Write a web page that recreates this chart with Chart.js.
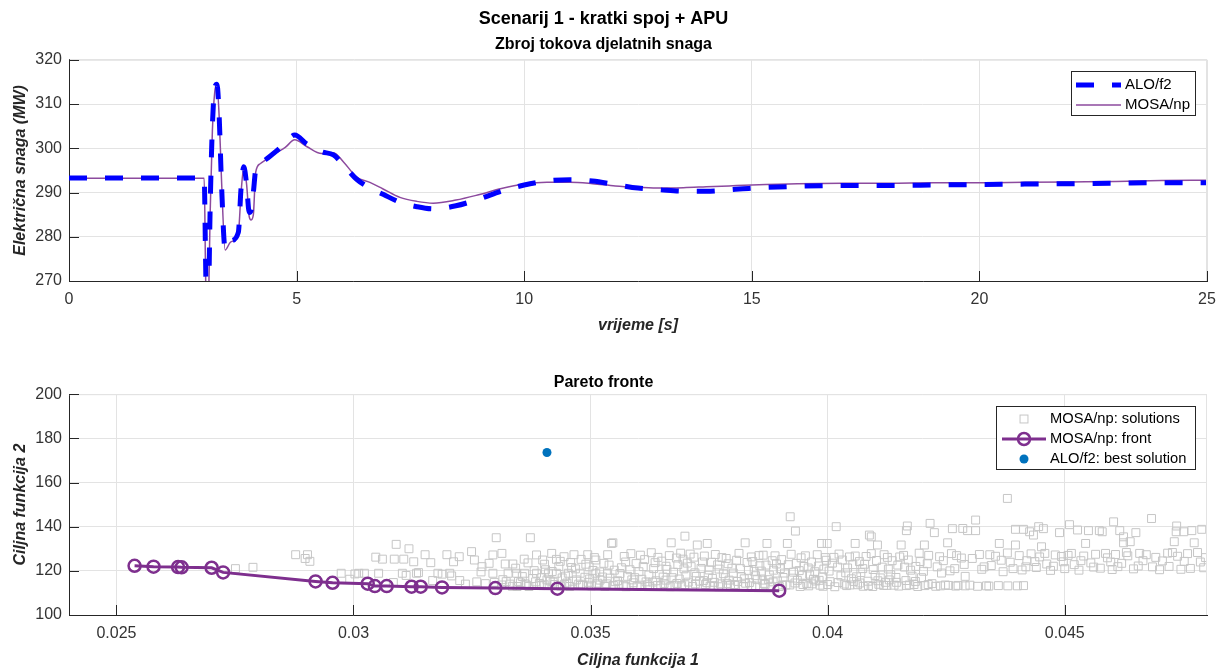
<!DOCTYPE html>
<html>
<head>
<meta charset="utf-8">
<script src="https://cdn.jsdelivr.net/npm/chart.js@4.4.1/dist/chart.umd.min.js"></script>
<style>
  html, body { margin: 0; padding: 0; background: #fff; }
  #wrap { position: relative; width: 1228px; height: 671px; overflow: hidden; }
  canvas { position: absolute; left: 0; }
  #top { top: 0; }
  #bottom { top: 340px; }
</style>
</head>
<body>
<div id="wrap">
  <canvas id="top" width="1228" height="340"></canvas>
  <canvas id="bottom" width="1228" height="331"></canvas>
</div>
<script>
// --- top plot: sum of active power flows ---
const timeS = [0, 1, 2, 2.97, 3.0, 3.03, 3.06, 3.1, 3.15, 3.2, 3.25, 3.3, 3.35, 3.43, 3.55, 3.72, 3.78, 3.84, 3.9, 3.96,
  4.0, 4.05, 4.1, 4.2, 4.34, 4.56, 4.75, 4.96, 5.22, 5.55, 5.81, 6.03, 6.32, 6.61, 6.9, 7.27, 7.64, 8.0, 8.5, 9.0,
  9.5, 10.0, 10.5, 11.0, 11.5, 12.0, 12.5, 13.0, 13.5, 14.0, 14.5, 15.0, 16, 17, 18, 19, 20, 21, 22, 23, 24, 25];
const aloF2 = [293.3, 293.3, 293.3, 293.3, 275, 258, 262, 286, 305, 313.5, 314.5, 307, 292, 277.2, 279, 281, 291, 295.8, 292, 285.5,
  286, 290, 295, 296.5, 297.6, 299.4, 301.2, 303.0, 301.0, 299.2, 298.5, 296.2, 293.0, 291.0, 289.6, 287.8, 286.8, 286.3, 287.0, 288.5,
  290.3, 291.7, 292.6, 292.9, 292.6, 291.8, 291.0, 290.6, 290.3, 290.3, 290.6, 291.0, 291.4, 291.6, 291.6, 291.7, 291.8, 291.9, 292.0, 292.1, 292.2, 292.2];
const mosaNp = [293.2, 293.2, 293.2, 293.2, 272, 258, 262, 285, 304, 312.5, 314.2, 307, 293, 277.0, 278.8, 280.8, 290, 295.6, 292, 284.5,
  283.8, 285, 294.5, 296.5, 297.5, 299.0, 300.2, 301.9, 300.4, 298.8, 299.0, 296.9, 293.5, 292.3, 290.8, 288.9, 288.0, 287.6, 288.3, 289.5,
  290.9, 291.9, 292.3, 292.3, 292.0, 291.5, 291.2, 291.0, 291.1, 291.3, 291.5, 291.7, 292.0, 292.1, 292.1, 292.2, 292.2, 292.3, 292.4, 292.5, 292.7, 292.8];
const timeTicks = [0, 5, 10, 15, 20, 25];
const powerTicks = [270, 280, 290, 300, 310, 320];

// --- bottom plot: Pareto fronts ---
const frontF1 = [0.025383, 0.025783, 0.0263, 0.026375, 0.027008, 0.02725, 0.0292, 0.029558, 0.0303, 0.03045, 0.0307,
  0.031225, 0.031417, 0.031867, 0.032992, 0.0343, 0.038978];
const frontF2 = [122.3, 121.9, 121.7, 121.6, 121.4, 119.3, 115.2, 114.6, 114.2, 113.1, 113.1, 112.8, 112.8, 112.5, 112.2, 111.9, 111.0];
const bestF1 = [0.03408];
const bestF2 = [173.6];
const f1Ticks = [0.025, 0.03, 0.035, 0.04, 0.045];
const f2Ticks = [100, 120, 140, 160, 180, 200];
const solutions = [
  [0.02751,121.0],[0.02788,121.6],[0.02878,127.3],[0.02898,125.6],[0.02903,127.3],[0.02908,124.3],[0.02974,118.9],[0.02992,116.2],
  [0.03003,118.6],[0.03011,118.9],[0.03023,118.9],[0.03047,126.2],[0.03053,118.9],[0.03061,125.3],[0.03084,114.7],[0.03086,125.3],
  [0.03090,132.0],[0.03103,118.9],[0.03106,125.3],[0.03111,117.9],[0.03117,130.0],[0.03127,124.1],[0.03133,118.9],[0.03137,119.2],
  [0.03151,127.3],[0.03163,123.7],[0.03167,115.6],[0.03178,118.9],[0.03187,118.5],[0.03197,127.3],[0.03203,118.9],[0.03207,117.7],
  [0.03211,124.1],[0.03223,126.4],[0.03224,115.6],[0.03236,114.0],[0.03249,128.7],[0.03255,124.9],[0.03260,115.0],[0.03269,119.5],
  [0.03271,121.9],[0.03278,114.2],[0.03286,123.4],[0.03294,127.2],[0.03294,118.9],[0.03297,114.8],[0.03301,135.0],[0.03313,127.9],
  [0.03315,116.0],[0.03320,123.1],[0.03326,118.9],[0.03330,114.0],[0.03336,123.1],[0.03344,118.9],[0.03348,115.2],[0.03360,125.3],
  [0.03361,118.9],[0.03365,113.5],[0.03373,135.0],[0.03378,116.5],[0.03386,127.2],[0.03386,118.9],[0.03392,114.3],[0.03399,124.9],
  [0.03405,120.5],[0.03411,118.9],[0.03415,115.4],[0.03418,127.9],[0.03424,113.8],[0.03428,125.2],[0.03428,118.9],[0.03433,122.0],
  [0.03440,116.8],[0.03444,126.4],[0.03450,114.5],[0.03453,118.9],[0.03460,121.5],[0.03465,127.3],[0.03470,115.9],[0.03478,118.9],
  [0.03483,113.6],[0.03490,123.0],[0.03494,127.3],[0.03498,116.3],[0.03505,120.2],[0.03511,124.9],[0.03511,118.9],[0.03515,114.4],
  [0.03525,117.2],[0.03536,127.3],[0.03536,118.9],[0.03539,122.6],[0.03544,132.4],[0.03547,132.7],[0.03552,115.1],
  [0.03560,113.9],[0.03565,121.4],[0.03571,126.5],[0.03578,117.5],[0.03585,127.8],[0.03590,114.6],[0.03596,123.3],[0.03602,119.6],
  [0.03608,116.2],[0.03614,125.1],[0.03620,113.7],[0.03628,128.2],[0.03633,121.0],[0.03638,115.5],[0.03645,118.3],[0.03650,124.4],
  [0.03655,114.2],[0.03661,120.6],[0.03666,126.9],[0.03670,132.7],[0.03672,116.9],[0.03678,113.5],[0.03684,122.8],[0.03690,128.0],
  [0.03695,125.3],[0.03699,135.7],[0.03701,117.8],[0.03706,114.9],[0.03712,121.9],[0.03718,126.2],[0.03720,119.1],[0.03725,131.7],
  [0.03730,115.3],[0.03736,124.0],[0.03742,113.8],[0.03746,132.4],[0.03750,120.4],[0.03757,116.6],[0.03763,127.4],[0.03768,122.7],
  [0.03774,114.1],[0.03780,118.7],[0.03786,125.6],[0.03792,115.8],[0.03798,121.2],[0.03805,113.4],[0.03813,127.9],[0.03818,117.3],
  [0.03826,132.7],[0.03830,123.8],[0.03835,114.7],[0.03839,126.3],[0.03845,119.8],[0.03851,116.0],[0.03857,122.3],[0.03864,127.1],
  [0.03868,113.9],[0.03872,132.4],[0.03877,118.1],[0.03883,124.6],[0.03889,126.8],[0.03894,115.4],[0.03900,121.0],[0.03906,117.0],
  [0.03912,113.6],[0.03915,132.4],[0.03921,144.5],[0.03923,127.5],[0.03928,119.4],[0.03932,138.0],[0.03936,115.7],[0.03944,125.9],
  [0.03950,122.0],[0.03956,114.3],[0.03962,118.5],[0.03970,116.2],[0.03978,127.3],[0.03984,113.5],[0.03987,132.4],[0.03992,120.8],
  [0.03995,126.0],[0.03999,132.4],[0.04005,115.1],[0.04010,123.5],[0.04018,140.0],[0.04024,127.6],[0.04028,117.7],[0.04035,114.0],
  [0.04042,121.3],[0.04050,116.4],[0.04058,132.4],[0.04058,126.7],[0.04063,113.7],[0.04070,119.2],[0.04078,123.0],[0.04085,115.3],
  [0.04088,136.2],[0.04092,135.4],[0.04092,127.8],[0.04100,117.9],[0.04105,131.7],[0.04108,113.9],[0.04115,121.7],[0.04122,114.8],
  [0.04126,126.1],[0.04133,118.2],[0.04140,113.5],[0.04148,122.6],[0.04155,131.7],[0.04160,127.0],[0.04165,115.6],[0.04166,138.2],
  [0.04168,140.3],[0.04175,120.3],[0.04182,113.8],[0.04193,128.0],[0.04198,116.9],[0.04204,131.7],[0.04210,123.2],[0.04216,141.5],
  [0.04220,114.2],[0.04225,137.3],[0.04236,126.4],[0.04240,119.0],[0.04248,113.6],[0.04253,132.7],[0.04261,127.8],[0.04263,139.1],
  [0.04268,121.0],[0.04275,113.4],[0.04282,125.8],[0.04285,139.2],[0.04290,117.5],[0.04295,138.2],[0.04300,113.5],[0.04312,143.0],
  [0.04312,138.2],[0.04320,127.4],[0.04325,120.7],[0.04335,113.2],[0.04345,122.4],[0.04354,126.6],[0.04360,113.3],[0.04362,132.4],
  [0.04370,119.6],[0.04379,152.8],[0.04379,128.1],[0.04385,123.9],[0.04396,138.8],[0.04396,131.7],[0.04400,113.2],[0.04404,126.9],
  [0.04410,120.4],[0.04413,138.8],[0.04420,124.6],[0.04426,137.7],[0.04429,127.7],[0.04434,136.2],[0.04440,121.5],[0.04445,140.0],
  [0.04447,126.3],[0.04451,130.9],[0.04455,139.1],[0.04462,123.1],[0.04470,120.2],[0.04480,127.2],[0.04489,137.3],[0.04493,126.5],
  [0.04500,121.0],[0.04510,140.9],[0.04514,127.9],[0.04520,122.8],[0.04527,138.5],[0.04530,120.3],[0.04540,126.7],[0.04544,132.4],
  [0.04550,138.2],[0.04555,123.6],[0.04565,127.5],[0.04573,138.2],[0.04575,121.2],[0.04579,137.7],[0.04590,125.9],[0.04600,120.6],
  [0.04603,142.2],[0.04607,127.4],[0.04616,138.2],[0.04620,123.4],[0.04624,135.4],[0.04624,132.7],[0.04633,126.8],[0.04638,133.2],
  [0.04645,120.9],[0.04650,137.3],[0.04658,127.9],[0.04665,124.6],[0.04683,143.7],[0.04685,121.8],[0.04692,126.1],[0.04700,120.5],
  [0.04717,128.0],[0.04720,122.0],[0.04731,133.2],[0.04735,137.7],[0.04736,140.3],[0.04738,126.6],[0.04745,120.7],[0.04751,137.7],
  [0.04759,127.8],[0.04765,121.1],[0.04768,138.2],[0.04773,132.7],[0.04780,128.3],[0.04789,138.8],[0.04797,126.0],
  [0.03335,113.0],[0.03352,114.6],[0.03370,112.9],[0.03396,113.3],[0.03408,115.9],[0.03437,113.1],[0.03456,112.9],[0.03475,114.0],
  [0.03502,113.2],[0.03520,115.8],[0.03530,112.9],[0.03548,113.4],[0.03575,112.8],[0.03598,113.0],[0.03617,115.0],[0.03625,112.9],
  [0.03648,113.2],[0.03668,112.8],[0.03692,113.3],[0.03715,112.9],[0.03738,115.6],[0.03752,113.0],[0.03770,112.8],[0.03795,113.5],
  [0.03810,115.2],[0.03822,112.9],[0.03848,113.1],[0.03862,115.8],[0.03880,113.0],[0.03898,112.9],[0.03920,113.6],[0.03942,112.9],
  [0.03960,113.2],[0.03975,115.4],[0.03990,113.0],[0.04015,112.8],[0.04040,113.3],[0.04055,115.2],[0.04075,113.0],[0.04095,112.9],
  [0.04118,113.4],[0.04130,115.9],[0.04150,113.1],[0.04172,113.6],[0.04190,112.9],[0.04205,113.3],[0.04228,113.0],[0.04255,113.4],
  [0.04316,113.0],[0.04413,113.3],
  [0.03342,121.2],[0.03356,117.4],[0.03368,123.6],[0.03381,120.1],[0.03397,116.9],[0.03403,123.0],[0.03419,119.7],[0.03436,124.3],
  [0.03447,117.6],[0.03458,123.8],[0.03468,120.9],[0.03480,125.2],[0.03488,117.1],[0.03497,121.8],[0.03508,126.0],[0.03519,119.5],
  [0.03528,123.4],[0.03541,116.7],[0.03550,120.3],[0.03562,118.8],[0.03574,124.0],[0.03583,120.5],[0.03593,116.9],[0.03605,127.1],
  [0.03611,121.9],[0.03623,118.1],[0.03636,123.7],[0.03642,126.1],[0.03653,117.2],[0.03659,122.1],[0.03675,119.4],[0.03681,125.8],
  [0.03687,116.3],[0.03697,120.9],[0.03704,123.5],[0.03710,127.6],[0.03723,117.5],[0.03733,121.1],[0.03740,126.7],[0.03748,118.0],
  [0.03755,123.9],[0.03761,114.8],[0.03771,120.8],[0.03777,126.0],[0.03784,116.9],[0.03790,123.2],[0.03801,119.0],[0.03808,124.8],
  [0.03816,121.0],[0.03824,116.4],[0.03833,120.2],[0.03842,124.2],[0.03848,117.8],[0.03855,126.9],[0.03860,119.9],[0.03870,122.6],
  [0.03875,116.0],[0.03886,120.3],[0.03892,123.1],[0.03903,125.1],[0.03909,119.0],[0.03917,122.8],[0.03926,116.7],[0.03934,123.4],
  [0.03940,120.1],[0.03947,118.0],[0.03953,126.8],[0.03959,121.3],[0.03966,124.0],[0.03973,119.6],[0.03981,122.2],[0.03989,117.2],
  [0.03997,124.8],[0.04003,119.9],[0.04013,126.1],[0.04021,121.7],[0.04031,124.9],[0.04038,119.1],[0.04046,126.3],[0.04053,122.8],
  [0.04061,117.3],[0.04067,124.2],[0.04074,121.0],[0.04081,126.5],[0.04096,120.6],[0.04103,124.7],[0.04111,116.8],[0.04119,127.3],
  [0.04128,120.8],[0.04136,124.6],[0.04144,117.0],[0.04152,126.3],[0.04162,121.7],[0.04170,124.9],[0.04178,117.6],[0.04186,122.0],
  [0.04195,124.2],[0.04202,119.8],[0.04213,127.0],[0.04231,121.8],[0.04244,124.6],[0.04258,120.0],[0.04272,126.9],[0.04288,122.9],
  [0.04305,125.6],[0.04330,121.8],[0.04342,127.3],[0.04366,124.8],[0.04391,121.0],[0.04418,121.8],[0.04437,124.2],[0.04458,127.9],
  [0.04476,122.1],[0.04497,124.1],[0.04507,127.0],[0.04534,124.6],[0.04561,121.7],[0.04586,127.9],[0.04597,124.0],[0.04612,121.9],
  [0.04630,128.3],[0.04655,122.2],[0.04672,127.3],[0.04706,124.5],[0.04727,128.3],[0.04752,124.3],[0.04786,124.0],[0.04793,121.4],
  [0.03312,113.6],[0.03322,115.1],[0.03345,112.9],[0.03362,114.1],[0.03384,115.0],[0.03402,113.7],[0.03421,114.9],[0.03445,113.9],
  [0.03462,115.3],[0.03479,113.4],[0.03495,114.8],[0.03512,113.6],[0.03534,114.1],[0.03557,115.5],[0.03569,113.3],[0.03587,115.9],
  [0.03606,113.5],[0.03631,114.9],[0.03641,113.4],[0.03659,115.8],[0.03682,114.3],[0.03699,113.7],[0.03721,114.1],[0.03745,114.6],
  [0.03760,113.3],[0.03788,114.2],[0.03803,113.8],[0.03827,114.4],[0.03840,113.2],[0.03866,114.3],[0.03885,115.0],[0.03905,113.6],
  [0.03931,114.5],[0.03948,113.8],[0.03967,114.1],[0.03982,115.7],[0.04000,113.8],[0.04022,114.7],[0.04047,113.6],[0.04068,114.5],
  [0.04086,113.3],[0.04106,115.5],[0.04125,113.4],[0.04145,114.8],[0.04166,113.3],[0.04185,115.2],[0.04212,113.8],[0.04238,113.2],
  [0.04270,113.1],[0.04290,113.2],[0.04340,113.1],[0.04380,113.2]
];

Chart.defaults.font.family = '"Liberation Sans", Arial, Helvetica, sans-serif';
Chart.defaults.color = '#333';

const GRID = '#e3e3e3';
const AXIS = '#262626';

// MATLAB-style inward ticks plus a faint top/right box
const axisDecor = {
  id: 'axisDecor',
  afterDraw(chart) {
    const { ctx, chartArea: a, scales: { x, y } } = chart;
    ctx.save();
    ctx.lineWidth = 1;
    ctx.strokeStyle = GRID;
    ctx.beginPath();
    ctx.moveTo(a.left, a.top + 0.5); ctx.lineTo(a.right, a.top + 0.5);
    ctx.moveTo(a.right - 0.5, a.top); ctx.lineTo(a.right - 0.5, a.bottom);
    ctx.stroke();
    ctx.strokeStyle = AXIS;
    ctx.beginPath();
    x.ticks.forEach(t => {
      const px = Math.round(x.getPixelForValue(t.value)) + 0.5;
      ctx.moveTo(px, a.bottom); ctx.lineTo(px, a.bottom - 10);
    });
    y.ticks.forEach(t => {
      const py = Math.round(y.getPixelForValue(t.value)) + 0.5;
      ctx.moveTo(a.left, py); ctx.lineTo(a.left + 10, py);
    });
    ctx.stroke();
    ctx.restore();
  }
};

// legend with a frame, samples taken from the datasets
const boxLegend = {
  id: 'boxLegend',
  afterDraw(chart, args, o) {
    const { ctx } = chart;
    ctx.save();
    ctx.fillStyle = '#fff';
    ctx.fillRect(o.x, o.y, o.w, o.h);
    ctx.strokeStyle = AXIS;
    ctx.lineWidth = 1;
    ctx.strokeRect(o.x + 0.5, o.y + 0.5, o.w, o.h);
    ctx.font = o.font;
    ctx.textBaseline = 'middle';
    o.items.forEach((it, i) => {
      const ds = chart.data.datasets[it.ds];
      const yy = o.rows[i];
      const mid = (o.s0 + o.s1) / 2;
      if (it.line) {
        ctx.setLineDash(ds.borderDash || []);
        ctx.strokeStyle = ds.borderColor;
        ctx.lineWidth = ds.borderWidth;
        ctx.beginPath(); ctx.moveTo(o.s0, yy); ctx.lineTo(o.s1, yy); ctx.stroke();
        ctx.setLineDash([]);
      }
      if (it.marker === 'circle') {
        ctx.strokeStyle = ds.pointBorderColor;
        ctx.lineWidth = ds.pointBorderWidth;
        ctx.beginPath(); ctx.arc(mid, yy, ds.pointRadius, 0, Math.PI * 2); ctx.stroke();
      } else if (it.marker === 'rect') {
        ctx.strokeStyle = ds.pointBorderColor;
        ctx.lineWidth = ds.pointBorderWidth;
        const s = ds.pointRadius * Math.SQRT1_2;
        ctx.strokeRect(mid - s, yy - s, 2 * s, 2 * s);
      } else if (it.marker === 'dot') {
        ctx.fillStyle = ds.pointBackgroundColor;
        ctx.beginPath(); ctx.arc(mid, yy, ds.pointRadius, 0, Math.PI * 2); ctx.fill();
      }
      ctx.fillStyle = '#000';
      ctx.fillText(ds.label, o.tx, yy);
    });
    ctx.restore();
  }
};

const tickFont = { size: 16 };
const labelFont = { size: 16, weight: 'bold', style: 'italic' };

new Chart(document.getElementById('top'), {
  type: 'line',
  data: {
    labels: timeS,
    datasets: [
      {
        label: 'ALO/f2',
        data: timeS.map((t, i) => ({ x: t, y: aloF2[i] })),
        borderColor: '#0000ff',
        borderWidth: 5,
        borderDash: [18, 18],
        pointRadius: 0,
        cubicInterpolationMode: 'monotone'
      },
      {
        label: 'MOSA/np',
        data: timeS.map((t, i) => ({ x: t, y: mosaNp[i] })),
        borderColor: '#8c4a9e',
        borderWidth: 1.5,
        pointRadius: 0,
        cubicInterpolationMode: 'monotone'
      }
    ]
  },
  options: {
    responsive: false,
    animation: false,
    devicePixelRatio: 1,
    layout: { padding: { top: 8, left: 0, right: 21, bottom: 0 } },
    plugins: {
      legend: { display: false },
      tooltip: { enabled: false },
      title: {
        display: true,
        text: 'Scenarij 1 - kratki spoj + APU',
        color: '#000',
        font: { size: 18, weight: 'bold' },
        padding: { top: 0, bottom: 5 }
      },
      subtitle: {
        display: true,
        text: 'Zbroj tokova djelatnih snaga',
        color: '#000',
        font: { size: 16, weight: 'bold' },
        padding: { top: 0, bottom: 6 }
      },
      boxLegend: {
        x: 1071, y: 71, w: 124, h: 44, s0: 1076, s1: 1121, tx: 1125, rows: [85, 105],
        font: '15px "Liberation Sans", Arial, sans-serif',
        items: [{ ds: 0, line: true }, { ds: 1, line: true }]
      }
    },
    scales: {
      x: {
        type: 'linear',
        min: 0, max: 25,
        afterBuildTicks: s => { s.ticks = timeTicks.map(v => ({ value: v })); },
        afterFit: s => { s.height = 59; },
        grid: { color: GRID, drawTicks: false },
        border: { color: AXIS, width: 1 },
        ticks: { font: tickFont, padding: 9, color: '#333' },
        title: { display: true, text: 'vrijeme [s]', color: '#262626', font: labelFont, padding: { top: 0, bottom: 5 } }
      },
      y: {
        min: 270, max: 320,
        afterBuildTicks: s => { s.ticks = powerTicks.map(v => ({ value: v })); },
        afterFit: s => { s.width = 69; },
        grid: { color: GRID, drawTicks: false },
        border: { color: AXIS, width: 1 },
        ticks: { font: tickFont, padding: 7, color: '#333' },
        title: { display: true, text: 'Električna snaga (MW)', color: '#262626', font: labelFont, padding: { top: 11, bottom: 0 } }
      }
    }
  },
  plugins: [axisDecor, boxLegend]
});

new Chart(document.getElementById('bottom'), {
  type: 'scatter',
  data: {
    datasets: [
      {
        label: 'MOSA/np: solutions',
        data: solutions.map(p => ({ x: p[0], y: p[1] })),
        pointStyle: 'rect',
        pointRadius: 5.6,
        pointBorderWidth: 1,
        pointBorderColor: '#c6c6c6',
        pointBackgroundColor: 'rgba(0,0,0,0)',
        showLine: false,
        order: 3
      },
      {
        label: 'MOSA/np: front',
        data: frontF1.map((v, i) => ({ x: v, y: frontF2[i] })),
        showLine: true,
        borderColor: '#7e2f8e',
        borderWidth: 3,
        pointStyle: 'circle',
        pointRadius: 6,
        pointBorderWidth: 2.5,
        pointBorderColor: '#7e2f8e',
        pointBackgroundColor: 'rgba(0,0,0,0)',
        order: 1
      },
      {
        label: 'ALO/f2: best solution',
        data: bestF1.map((v, i) => ({ x: v, y: bestF2[i] })),
        pointStyle: 'circle',
        pointRadius: 4.5,
        pointBorderWidth: 0,
        pointBackgroundColor: '#0072bd',
        pointBorderColor: '#0072bd',
        order: 2
      }
    ]
  },
  options: {
    responsive: false,
    animation: false,
    devicePixelRatio: 1,
    layout: { padding: { top: 33, left: 0, right: 21, bottom: 0 } },
    plugins: {
      legend: { display: false },
      tooltip: { enabled: false },
      title: {
        display: true,
        text: 'Pareto fronte',
        color: '#000',
        font: { size: 16, weight: 'bold' },
        padding: { top: 0, bottom: 2 }
      },
      boxLegend: {
        x: 996, y: 66, w: 199, h: 63, s0: 1002, s1: 1046, tx: 1050, rows: [79, 99, 119],
        font: '14.7px "Liberation Sans", Arial, sans-serif',
        items: [{ ds: 0, marker: 'rect' }, { ds: 1, line: true, marker: 'circle' }, { ds: 2, marker: 'dot' }]
      }
    },
    scales: {
      x: {
        type: 'linear',
        min: 0.024, max: 0.048,
        afterBuildTicks: s => { s.ticks = f1Ticks.map(v => ({ value: v })); },
        afterFit: s => { s.height = 56; },
        grid: { color: GRID, drawTicks: false },
        border: { color: AXIS, width: 1 },
        ticks: { font: tickFont, padding: 9, color: '#333', callback: v => String(+v.toFixed(3)) },
        title: { display: true, text: 'Ciljna funkcija 1', color: '#262626', font: labelFont, padding: { top: 0, bottom: 1 } }
      },
      y: {
        min: 100, max: 200,
        afterBuildTicks: s => { s.ticks = f2Ticks.map(v => ({ value: v })); },
        afterFit: s => { s.width = 69; },
        grid: { color: GRID, drawTicks: false },
        border: { color: AXIS, width: 1 },
        ticks: { font: tickFont, padding: 7, color: '#333' },
        title: { display: true, text: 'Ciljna funkcija 2', color: '#262626', font: labelFont, padding: { top: 11, bottom: 0 } }
      }
    }
  },
  plugins: [axisDecor, boxLegend]
});
</script>
</body>
</html>
